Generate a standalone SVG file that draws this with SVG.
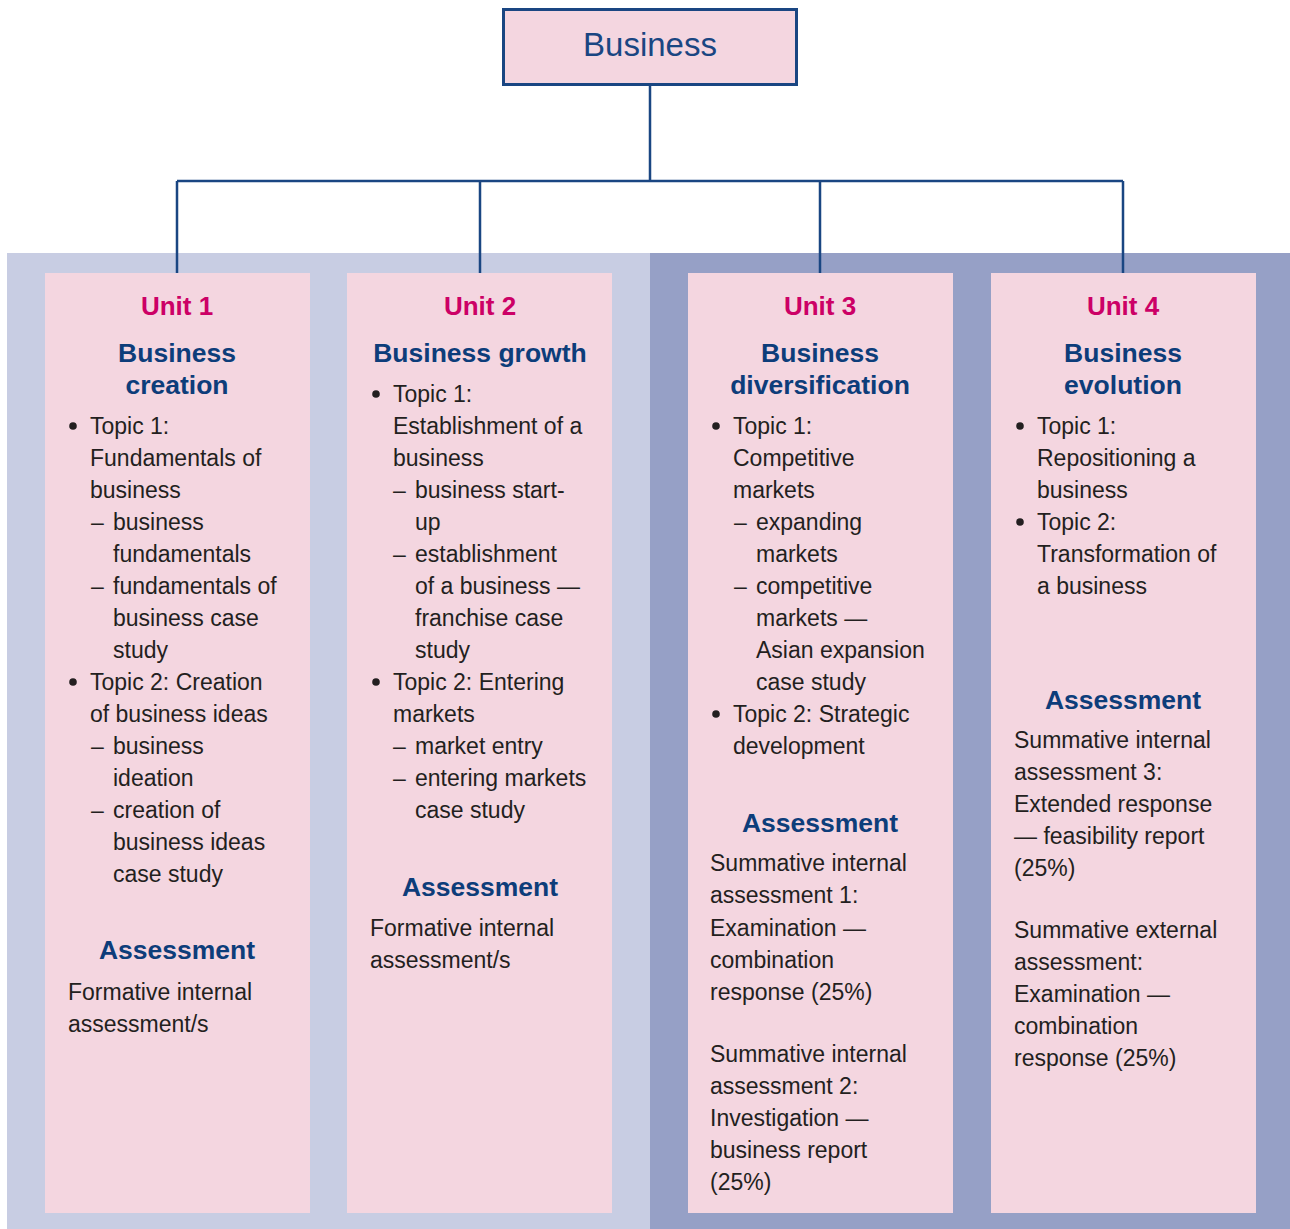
<svg xmlns="http://www.w3.org/2000/svg" width="1290" height="1229" viewBox="0 0 1290 1229">
<style>
.bgl{fill:#c8cde3}
.bgd{fill:#96a0c6}
.card{fill:#f4d6e0}
.top{fill:#f4d6e0;stroke:#1a4682;stroke-width:3}
.conn{fill:none;stroke:#1a4682;stroke-width:2.5}
.dot{fill:#231f20}
text{font-family:"Liberation Sans",Arial,sans-serif}
.ttl{font-size:33px;fill:#1a4682;text-anchor:middle}
.unit{font-size:26px;font-weight:bold;fill:#cc0066;text-anchor:middle}
.head{font-size:26.5px;font-weight:bold;fill:#0d3d7a;text-anchor:middle}
.b{font-size:23px;fill:#231f20}
</style>
<rect class="bgl" x="7" y="253" width="643" height="976"/>
<rect class="bgd" x="650" y="253" width="640" height="976"/>
<g id="connectors">
<path class="conn" d="M650 85V181M177 181H1123M177 181V273M480 181V273M820 181V273M1123 181V273"/>
</g>
<g id="business">
<rect class="top" x="503.5" y="9.5" width="293" height="75"/>
<text class="ttl" x="650" y="56">Business</text>
</g>
<g id="unit1">
<rect class="card" x="45" y="273" width="265" height="940"/>
<text class="unit" x="177" y="315">Unit 1</text>
<text class="head" x="177" y="362">Business</text>
<text class="head" x="177" y="394">creation</text>
<circle class="dot" cx="73" cy="426" r="3.8"/>
<text class="b" x="90" y="434">Topic 1:</text>
<text class="b" x="90" y="466">Fundamentals of</text>
<text class="b" x="90" y="498">business</text>
<text class="b" x="91" y="530">–</text>
<text class="b" x="113" y="530">business</text>
<text class="b" x="113" y="562">fundamentals</text>
<text class="b" x="91" y="594">–</text>
<text class="b" x="113" y="594">fundamentals of</text>
<text class="b" x="113" y="626">business case</text>
<text class="b" x="113" y="658">study</text>
<circle class="dot" cx="73" cy="682" r="3.8"/>
<text class="b" x="90" y="690">Topic 2: Creation</text>
<text class="b" x="90" y="722">of business ideas</text>
<text class="b" x="91" y="754">–</text>
<text class="b" x="113" y="754">business</text>
<text class="b" x="113" y="786">ideation</text>
<text class="b" x="91" y="818">–</text>
<text class="b" x="113" y="818">creation of</text>
<text class="b" x="113" y="850">business ideas</text>
<text class="b" x="113" y="882">case study</text>
<text class="head" x="177" y="959">Assessment</text>
<text class="b" x="68" y="1000">Formative internal</text>
<text class="b" x="68" y="1032">assessment/s</text>
</g>
<g id="unit2">
<rect class="card" x="347" y="273" width="265" height="940"/>
<text class="unit" x="480" y="315">Unit 2</text>
<text class="head" x="480" y="362">Business growth</text>
<circle class="dot" cx="376" cy="394" r="3.8"/>
<text class="b" x="393" y="402">Topic 1:</text>
<text class="b" x="393" y="434">Establishment of a</text>
<text class="b" x="393" y="466">business</text>
<text class="b" x="393" y="498">–</text>
<text class="b" x="415" y="498">business start-</text>
<text class="b" x="415" y="530">up</text>
<text class="b" x="393" y="562">–</text>
<text class="b" x="415" y="562">establishment</text>
<text class="b" x="415" y="594">of a business —</text>
<text class="b" x="415" y="626">franchise case</text>
<text class="b" x="415" y="658">study</text>
<circle class="dot" cx="376" cy="682" r="3.8"/>
<text class="b" x="393" y="690">Topic 2: Entering</text>
<text class="b" x="393" y="722">markets</text>
<text class="b" x="393" y="754">–</text>
<text class="b" x="415" y="754">market entry</text>
<text class="b" x="393" y="786">–</text>
<text class="b" x="415" y="786">entering markets</text>
<text class="b" x="415" y="818">case study</text>
<text class="head" x="480" y="896">Assessment</text>
<text class="b" x="370" y="936">Formative internal</text>
<text class="b" x="370" y="968">assessment/s</text>
</g>
<g id="unit3">
<rect class="card" x="688" y="273" width="265" height="940"/>
<text class="unit" x="820" y="315">Unit 3</text>
<text class="head" x="820" y="362">Business</text>
<text class="head" x="820" y="394">diversification</text>
<circle class="dot" cx="716" cy="426" r="3.8"/>
<text class="b" x="733" y="434">Topic 1:</text>
<text class="b" x="733" y="466">Competitive</text>
<text class="b" x="733" y="498">markets</text>
<text class="b" x="734" y="530">–</text>
<text class="b" x="756" y="530">expanding</text>
<text class="b" x="756" y="562">markets</text>
<text class="b" x="734" y="594">–</text>
<text class="b" x="756" y="594">competitive</text>
<text class="b" x="756" y="626">markets —</text>
<text class="b" x="756" y="658">Asian expansion</text>
<text class="b" x="756" y="690">case study</text>
<circle class="dot" cx="716" cy="714" r="3.8"/>
<text class="b" x="733" y="722">Topic 2: Strategic</text>
<text class="b" x="733" y="754">development</text>
<text class="head" x="820" y="832">Assessment</text>
<text class="b" x="710" y="871">Summative internal</text>
<text class="b" x="710" y="903">assessment 1:</text>
<text class="b" x="710" y="936">Examination —</text>
<text class="b" x="710" y="968">combination</text>
<text class="b" x="710" y="1000">response (25%)</text>
<text class="b" x="710" y="1062">Summative internal</text>
<text class="b" x="710" y="1094">assessment 2:</text>
<text class="b" x="710" y="1126">Investigation —</text>
<text class="b" x="710" y="1158">business report</text>
<text class="b" x="710" y="1190">(25%)</text>
</g>
<g id="unit4">
<rect class="card" x="991" y="273" width="265" height="940"/>
<text class="unit" x="1123" y="315">Unit 4</text>
<text class="head" x="1123" y="362">Business</text>
<text class="head" x="1123" y="394">evolution</text>
<circle class="dot" cx="1020" cy="426" r="3.8"/>
<text class="b" x="1037" y="434">Topic 1:</text>
<text class="b" x="1037" y="466">Repositioning a</text>
<text class="b" x="1037" y="498">business</text>
<circle class="dot" cx="1020" cy="522" r="3.8"/>
<text class="b" x="1037" y="530">Topic 2:</text>
<text class="b" x="1037" y="562">Transformation of</text>
<text class="b" x="1037" y="594">a business</text>
<text class="head" x="1123" y="709">Assessment</text>
<text class="b" x="1014" y="748">Summative internal</text>
<text class="b" x="1014" y="780">assessment 3:</text>
<text class="b" x="1014" y="812">Extended response</text>
<text class="b" x="1014" y="844">— feasibility report</text>
<text class="b" x="1014" y="876">(25%)</text>
<text class="b" x="1014" y="938">Summative external</text>
<text class="b" x="1014" y="970">assessment:</text>
<text class="b" x="1014" y="1002">Examination —</text>
<text class="b" x="1014" y="1034">combination</text>
<text class="b" x="1014" y="1066">response (25%)</text>
</g>
</svg>
